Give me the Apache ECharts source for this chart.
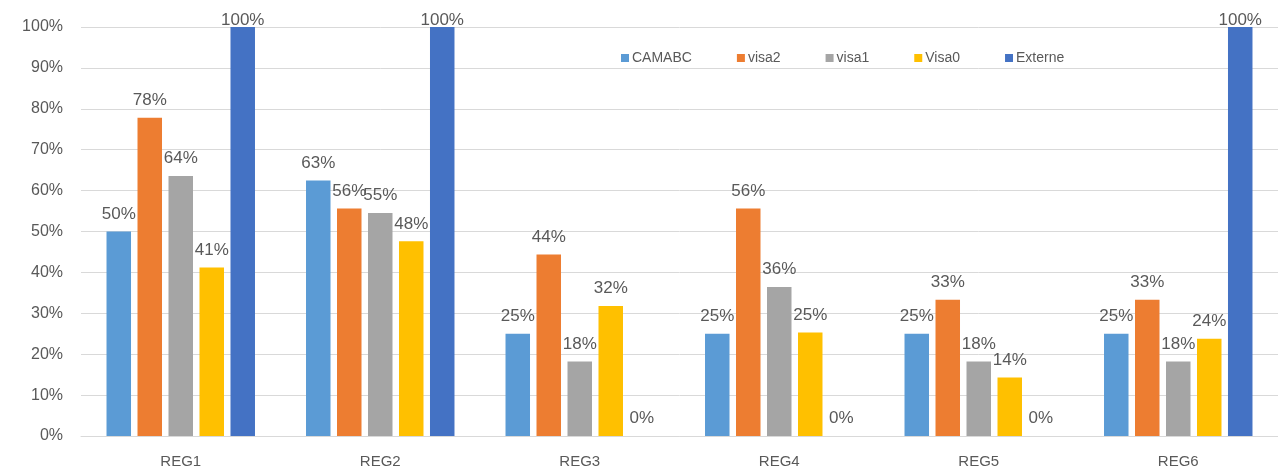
<!DOCTYPE html>
<html>
<head>
<meta charset="utf-8">
<script src="https://cdn.jsdelivr.net/npm/echarts@6/dist/echarts.min.js"></script>
<style>
  html, body { margin: 0; padding: 0; background: #fff; }
  #chart { width: 1278px; height: 476px; }
</style>
</head>
<body>
<div id="chart"></div>
<script>
// categories and series values (percent)
const categories = ['REG1', 'REG2', 'REG3', 'REG4', 'REG5', 'REG6']
const camabc = [50, 62.5, 25, 25, 25, 25]
const visa2 = [77.8, 55.6, 44.4, 55.6, 33.3, 33.3]
const visa1 = [63.6, 54.5, 18.2, 36.4, 18.2, 18.2]
const visa0 = [41.2, 47.6, 31.8, 25.3, 14.3, 23.8]
const externe = [100, 100, 0, 0, 0, 100]
const yTicks = [0, 10, 20, 30, 40, 50, 60, 70, 80, 90, 100]

const textColor = '#595959'
const font = 'Liberation Sans'

const myChart = echarts.init(document.getElementById('chart'))

function makeSeries(name, data, color) {
    return {
        name: name,
        type: 'bar',
        // labels at the very top get pushed closer to the bar, like excel does
        data: data.map(v => v >= 100 ? { value: v, label: { distance: -2 } } : v),
        barWidth: 24.5,
        barGap: '26.5%',
        itemStyle: { color: color },
        label: {
            show: true,
            position: 'top',
            distance: 9,
            color: textColor,
            fontSize: 17,
            fontFamily: font,
            formatter: (p) => Math.round(p.value) + '%'
        }
    }
}

const option = {
    animation: false,
    grid: { left: 81, right: -2, top: 27, bottom: 40 },
    legend: {
        left: 616,
        top: 46,
        itemWidth: 8,
        itemHeight: 8,
        itemGap: 45,
        icon: 'rect',
        textStyle: { color: textColor, fontSize: 14, fontFamily: font, padding: [0, 0, 0, -2] },
        data: ['CAMABC', 'visa2', 'visa1', 'Visa0', 'Externe']
    },
    xAxis: {
        type: 'category',
        data: categories,
        axisTick: { show: false },
        axisLine: { lineStyle: { color: '#D9D9D9', width: 1 } },
        axisLabel: { color: textColor, fontSize: 15, fontFamily: font, margin: 18 }
    },
    yAxis: {
        type: 'value',
        min: yTicks[0],
        max: yTicks[yTicks.length - 1],
        interval: 10,
        axisLine: { show: false },
        axisTick: { show: false },
        splitLine: { lineStyle: { color: '#D9D9D9', width: 1 } },
        axisLabel: {
            color: textColor,
            fontSize: 16,
            fontFamily: font,
            margin: 18,
            formatter: (v) => v + '%'
        }
    },
    series: [
        makeSeries('CAMABC', camabc, '#5B9BD5'),
        makeSeries('visa2', visa2, '#ED7D31'),
        makeSeries('visa1', visa1, '#A5A5A5'),
        makeSeries('Visa0', visa0, '#FFC000'),
        makeSeries('Externe', externe, '#4472C4')
    ]
}

myChart.setOption(option)
</script>
</body>
</html>
